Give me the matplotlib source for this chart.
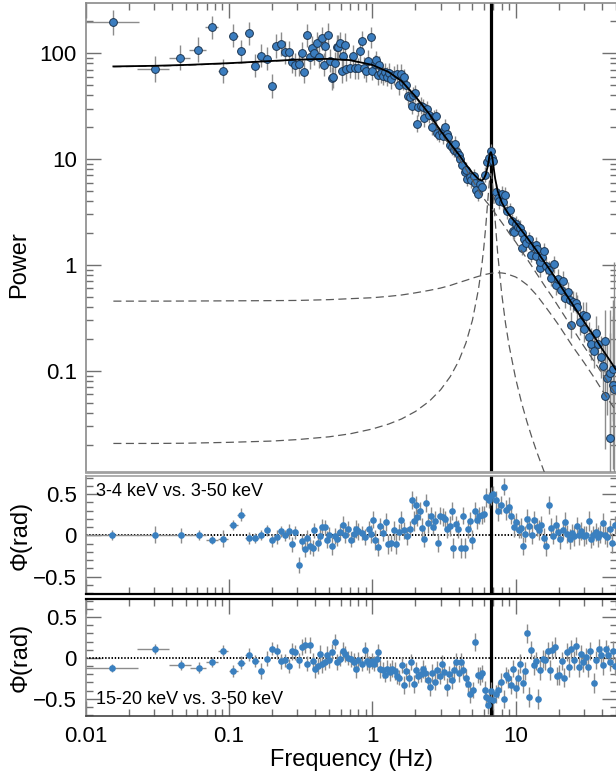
import numpy as np
import matplotlib
matplotlib.use('Agg')
import matplotlib.pyplot as plt
from matplotlib.ticker import FixedLocator, FixedFormatter, NullFormatter

plt.rcParams['font.family'] = ['Liberation Sans', 'DejaVu Sans']
plt.rcParams['lines.scale_dashes'] = False

# ---------------- power spectrum data ----------------
power_freq = [0.0156, 0.0305, 0.0457, 0.0608, 0.076, 0.091, 0.107, 0.122, 0.137, 0.153,
              0.168, 0.183, 0.2, 0.214, 0.229, 0.245, 0.261, 0.275, 0.289, 0.307,
              0.321, 0.334, 0.35, 0.366, 0.38, 0.395, 0.41, 0.427, 0.443, 0.46,
              0.47, 0.49, 0.505, 0.52, 0.535, 0.55, 0.565, 0.58, 0.595, 0.61,
              0.627, 0.64, 0.66, 0.7, 0.73, 0.76, 0.79, 0.82, 0.85, 0.88,
              0.91, 0.94, 0.98, 1.0, 1.04, 1.06, 1.09, 1.11, 1.15, 1.19,
              1.23, 1.27, 1.31, 1.36, 1.42, 1.48, 1.53, 1.58, 1.63, 1.67,
              1.72, 1.77, 1.83, 1.9, 1.93, 1.99, 2.04, 2.1, 2.2, 2.25,
              2.3, 2.4, 2.5, 2.6, 2.7, 2.77, 2.83, 2.9, 3.05, 3.1,
              3.2, 3.3, 3.4, 3.5, 3.6, 3.7, 3.8, 3.9, 4.05, 4.1,
              4.25, 4.4, 4.5, 4.6, 4.8, 4.9, 5.1, 5.2, 5.3, 5.5,
              5.6, 5.8, 6.1, 6.3, 6.5, 6.7, 6.8, 7.0, 7.3, 7.5,
              7.7, 8.0, 8.2, 8.5, 8.7, 9.1, 9.4, 9.6, 9.8, 10.0,
              10.4, 10.7, 11.0, 11.1, 11.5, 11.9, 12.5, 12.9, 13.1, 13.8,
              13.9, 14.1, 14.7, 14.8, 15.4, 15.8, 16.4, 17.0, 17.8, 18.4,
              19.2, 19.7, 20.6, 21.5, 22.2, 23.1, 23.8, 24.3, 25.1, 26.2,
              27.0, 28.0, 29.3, 30.1, 31.0, 32.4, 33.7, 35.0, 36.5, 37.8,
              39.3, 40.5, 42.0, 42.3, 43.6, 45.5, 45.8, 47.7, 48.2, 48.6]
power_value = [195, 71, 91, 108, 175, 68, 146, 104, 154, 76,
               95, 89, 49, 117, 122, 102, 102, 83, 78, 79,
               100, 67, 147, 92, 113, 100, 124, 93, 138, 78,
               117, 149, 85, 58, 60, 80, 115, 115, 124, 68,
               94, 120, 71, 73, 94, 72, 72, 106, 129, 73,
               68, 85, 141, 68, 79, 86, 62, 77, 65, 61,
               66, 60, 65, 57, 62, 64, 50, 64, 54, 59,
               50, 39, 38.5, 32, 40, 42, 21.6, 31, 32, 31,
               24.4, 30, 26, 20, 25, 25.3, 17.6, 17, 18.2, 16.4,
               20.3, 17.3, 16.1, 13.7, 12.9, 12.3, 14, 11.6, 11, 10,
               8.7, 7.5, 7.9, 6.5, 6.8, 6.3, 6.9, 5.9, 5.1, 4.7,
               5.8, 5.5, 7.1, 9.4, 10.2, 12, 10.2, 9.5, 4.9, 4.3,
               4.0, 4.7, 3.9, 4.6, 3.2, 3.3, 2.6, 2.07, 2.05, 2.45,
               2.3, 2.25, 2.0, 1.45, 1.75, 1.6, 1.75, 1.25, 1.5, 1.55,
               1.22, 1.42, 0.93, 1.07, 1.2, 1.34, 0.98, 0.90, 0.76, 1.01,
               0.64, 0.74, 0.58, 0.71, 0.49, 0.55, 0.47, 0.27, 0.45, 0.44,
               0.40, 0.29, 0.34, 0.25, 0.33, 0.21, 0.18, 0.154, 0.23, 0.18,
               0.135, 0.11, 0.19, 0.058, 0.086, 0.095, 0.023, 0.074, 0.105, 0.067]
power_err_dex = [0.12, 0.12, 0.12, 0.12, 0.11, 0.11, 0.11, 0.11, 0.11, 0.11,
                 0.11, 0.11, 0.11, 0.11, 0.11, 0.11, 0.11, 0.11, 0.11, 0.11,
                 0.11, 0.11, 0.11, 0.11, 0.11, 0.11, 0.11, 0.11, 0.11, 0.11,
                 0.11, 0.11, 0.11, 0.11, 0.11, 0.11, 0.11, 0.11, 0.11, 0.11,
                 0.11, 0.11, 0.11, 0.10, 0.10, 0.10, 0.10, 0.10, 0.10, 0.10,
                 0.10, 0.10, 0.10, 0.09, 0.09, 0.09, 0.09, 0.09, 0.09, 0.09,
                 0.09, 0.09, 0.09, 0.09, 0.09, 0.09, 0.09, 0.09, 0.08, 0.08,
                 0.08, 0.08, 0.08, 0.08, 0.08, 0.08, 0.08, 0.08, 0.08, 0.08,
                 0.08, 0.07, 0.07, 0.07, 0.07, 0.07, 0.07, 0.07, 0.07, 0.07,
                 0.07, 0.07, 0.07, 0.07, 0.07, 0.07, 0.07, 0.07, 0.07, 0.07,
                 0.07, 0.07, 0.07, 0.07, 0.07, 0.07, 0.07, 0.07, 0.07, 0.07,
                 0.07, 0.07, 0.07, 0.06, 0.06, 0.06, 0.06, 0.06, 0.07, 0.07,
                 0.07, 0.07, 0.07, 0.07, 0.07, 0.07, 0.07, 0.07, 0.07, 0.07,
                 0.07, 0.07, 0.07, 0.07, 0.07, 0.07, 0.07, 0.07, 0.07, 0.07,
                 0.07, 0.07, 0.08, 0.08, 0.08, 0.08, 0.08, 0.08, 0.08, 0.08,
                 0.09, 0.09, 0.09, 0.09, 0.10, 0.10, 0.10, 0.12, 0.10, 0.10,
                 0.11, 0.12, 0.12, 0.13, 0.13, 0.14, 0.15, 0.16, 0.16, 0.18,
                 0.20, 0.25, 0.30, 0.50, 0.35, 0.60, 1.00, 0.80, 0.50, 1.20]
bin_half_width = 0.0078

# ---------------- model curves ----------------
model_freq = [0.0156, 0.03, 0.05, 0.1, 0.2, 0.3, 0.5, 0.7, 1.0, 1.3,
              1.6, 2.0, 2.5, 3.0, 3.5, 4.0, 4.5, 5.0, 5.5, 5.8,
              6.0, 6.2, 6.4, 6.55, 6.65, 6.72, 6.8, 6.9, 7.05, 7.2,
              7.5, 8.0, 8.5, 9.0, 10, 11, 12, 13, 14, 15,
              16, 18, 20, 25, 30, 35, 40, 45, 50]
model_total = [75.0, 76.0, 77.5, 80.5, 84.5, 87.0, 88.5, 86.0, 77.5, 66.5,
               54.6, 39.1, 26.6, 18.47, 14.03, 11.1, 8.9, 7.4, 6.47, 6.27,
               6.52, 7.19, 8.70, 10.45, 11.41, 11.63, 11.22, 10.01, 8.01, 6.54,
               4.97, 3.90, 3.36, 2.98, 2.51, 2.12, 1.82, 1.57, 1.37, 1.19,
               1.05, 0.837, 0.675, 0.423, 0.292, 0.215, 0.162, 0.128, 0.103]
comp_main = [74.5, 75.5, 77, 80, 84, 86.5, 88, 85.5, 77, 66,
             54, 38.5, 26, 17.8, 13.3, 10.3, 8.0, 6.35, 5.1, 4.5,
             4.25, 4.0, 3.8, 3.65, 3.55, 3.5, 3.42, 3.33, 3.2, 3.07,
             2.85, 2.52, 2.25, 2.0, 1.65, 1.36, 1.14, 0.97, 0.83, 0.72,
             0.63, 0.50, 0.40, 0.25, 0.17, 0.125, 0.095, 0.075, 0.06]
comp_broad = [0.455, 0.455, 0.456, 0.458, 0.46, 0.462, 0.47, 0.48, 0.49, 0.505,
              0.52, 0.545, 0.575, 0.605, 0.64, 0.68, 0.715, 0.75, 0.78, 0.795,
              0.805, 0.815, 0.822, 0.828, 0.831, 0.833, 0.835, 0.838, 0.84, 0.842,
              0.843, 0.84, 0.83, 0.81, 0.77, 0.71, 0.65, 0.58, 0.52, 0.46,
              0.41, 0.33, 0.27, 0.17, 0.12, 0.088, 0.066, 0.052, 0.042]
comp_qpo = [0.0206, 0.0206, 0.0207, 0.0211, 0.0217, 0.0224, 0.0238, 0.0254, 0.0282, 0.0314,
            0.0351, 0.0413, 0.0516, 0.0663, 0.0882, 0.123, 0.183, 0.301, 0.585, 0.97,
            1.46, 2.37, 4.08, 5.97, 7.03, 7.3, 6.96, 5.84, 3.97, 2.63,
            1.28, 0.535, 0.282, 0.174, 0.085, 0.050, 0.033, 0.0234, 0.0174, 0.0135,
            0.0107, 0.0073, 0.0055, 0.003, 0.002, 0.0015, 0.0011, 0.0009, 0.0007]
qpo_freq = 6.7

# ---------------- phase lags: 3-4 keV vs 3-50 keV ----------------
mid_freq = [0.0153, 0.0305, 0.0461, 0.0613, 0.0764, 0.0912, 0.107, 0.122, 0.137, 0.153,
            0.168, 0.185, 0.2, 0.215, 0.229, 0.244, 0.261, 0.277, 0.291, 0.306,
            0.322, 0.337, 0.352, 0.37, 0.385, 0.394, 0.415, 0.434, 0.448, 0.465,
            0.483, 0.5, 0.524, 0.547, 0.569, 0.594, 0.621, 0.645, 0.674, 0.705,
            0.741, 0.769, 0.8, 0.841, 0.896, 0.942, 0.979, 1.016, 1.05, 1.096,
            1.14, 1.19, 1.245, 1.29, 1.35, 1.41, 1.47, 1.53, 1.58, 1.66,
            1.74, 1.82, 1.89, 1.94, 2.01, 2.06, 2.14, 2.22, 2.31, 2.37,
            2.46, 2.55, 2.65, 2.76, 2.86, 2.97, 3.09, 3.21, 3.33, 3.46,
            3.59, 3.68, 3.83, 3.97, 4.13, 4.29, 4.45, 4.62, 4.8, 4.99,
            5.18, 5.38, 5.59, 5.8, 6.03, 6.26, 6.5, 6.75, 7.01, 7.28,
            7.56, 7.86, 8.26, 8.59, 9.03, 9.26, 9.75, 10.1, 10.5, 10.9,
            11.2, 11.6, 12.1, 12.5, 13.0, 13.5, 14.0, 14.6, 15.1, 15.7,
            16.3, 17.0, 17.6, 18.3, 19.0, 19.7, 20.5, 21.3, 22.1, 23.0,
            23.9, 24.8, 25.7, 26.7, 27.8, 28.8, 29.9, 31.1, 32.3, 33.6,
            34.9, 36.2, 37.6, 39.0, 40.5, 42.2, 43.7, 45.4, 47.2, 49.0]
mid_phase = [0.01, 0.01, 0.0, 0.0, -0.05, -0.04, 0.13, 0.25, -0.03, -0.03,
             0.0, 0.06, -0.06, -0.02, 0.05, 0.0, 0.05, -0.11, 0.04, -0.36,
             -0.07, -0.17, -0.03, -0.13, -0.15, 0.06, -0.09, -0.01, 0.1, 0.1,
             -0.05, 0.01, -0.13, -0.01, -0.04, 0.04, 0.13, 0.01, 0.08, -0.05,
             0.02, 0.08, 0.05, 0.03, -0.02, 0.08, 0.02, 0.19, -0.06, -0.14,
             0.11, 0.03, 0.16, -0.11, -0.09, 0.06, -0.1, 0.04, 0.19, 0.06,
             -0.01, 0.08, 0.43, 0.17, 0.37, 0.22, 0.3, 0.09, -0.04, 0.39,
             0.15, 0.23, 0.1, 0.18, -0.09, 0.24, 0.22, 0.2, 0.08, 0.11,
             0.3, -0.15, 0.14, 0.08, -0.15, 0.24, -0.15, 0.08, 0.18, -0.05,
             0.3, 0.19, 0.24, 0.25, 0.26, 0.46, 0.43, 0.48, 0.5, 0.43,
             0.29, 0.37, 0.59, 0.31, 0.35, 0.24, 0.1, 0.16, 0.07, 0.09,
             -0.13, 0.02, 0.2, 0.12, 0.01, 0.19, 0.1, 0.07, 0.13, -0.03,
             -0.13, 0.37, 0.09, -0.01, 0.13, 0.04, -0.04, 0.07, 0.16, 0.02,
             -0.04, 0.03, -0.01, 0.11, 0.0, 0.05, -0.01, 0.01, 0.17, -0.04,
             0.0, 0.04, -0.02, 0.02, 0.15, 0.01, -0.02, 0.08, -0.09, 0.13]
mid_err = [0.06, 0.10, 0.09, 0.06, 0.05, 0.10, 0.06, 0.08, 0.07, 0.06,
           0.06, 0.07, 0.08, 0.08, 0.07, 0.07, 0.09, 0.09, 0.08, 0.10,
           0.09, 0.09, 0.10, 0.09, 0.10, 0.09, 0.10, 0.09, 0.10, 0.09,
           0.10, 0.09, 0.11, 0.10, 0.09, 0.10, 0.11, 0.10, 0.10, 0.09,
           0.10, 0.11, 0.10, 0.09, 0.10, 0.10, 0.11, 0.10, 0.12, 0.11,
           0.10, 0.10, 0.11, 0.12, 0.10, 0.11, 0.12, 0.10, 0.11, 0.10,
           0.11, 0.10, 0.11, 0.12, 0.11, 0.10, 0.11, 0.12, 0.10, 0.11,
           0.12, 0.11, 0.10, 0.12, 0.11, 0.10, 0.11, 0.10, 0.11, 0.12,
           0.11, 0.12, 0.10, 0.11, 0.12, 0.10, 0.12, 0.11, 0.10, 0.11,
           0.10, 0.11, 0.10, 0.11, 0.10, 0.11, 0.10, 0.11, 0.10, 0.11,
           0.12, 0.11, 0.10, 0.12, 0.11, 0.10, 0.12, 0.11, 0.10, 0.12,
           0.11, 0.10, 0.12, 0.11, 0.12, 0.10, 0.11, 0.12, 0.11, 0.12,
           0.12, 0.11, 0.12, 0.10, 0.12, 0.11, 0.12, 0.11, 0.12, 0.11,
           0.12, 0.11, 0.12, 0.11, 0.12, 0.11, 0.12, 0.11, 0.12, 0.11,
           0.12, 0.11, 0.12, 0.11, 0.12, 0.11, 0.12, 0.11, 0.12, 0.11]

# ---------------- phase lags: 15-20 keV vs 3-50 keV ----------------
bot_freq = [0.0153, 0.0305, 0.0461, 0.0613, 0.0764, 0.0912, 0.107, 0.122, 0.137, 0.153,
            0.168, 0.185, 0.2, 0.215, 0.229, 0.244, 0.261, 0.277, 0.291, 0.306,
            0.322, 0.337, 0.352, 0.37, 0.385, 0.4, 0.415, 0.434, 0.448, 0.465,
            0.483, 0.5, 0.524, 0.547, 0.569, 0.594, 0.621, 0.645, 0.674, 0.705,
            0.741, 0.769, 0.8, 0.841, 0.884, 0.916, 0.95, 0.99, 1.03, 1.07,
            1.1, 1.14, 1.18, 1.23, 1.27, 1.32, 1.37, 1.43, 1.48, 1.54,
            1.6, 1.67, 1.73, 1.8, 1.87, 1.94, 2.01, 2.09, 2.17, 2.26,
            2.35, 2.44, 2.53, 2.63, 2.73, 2.84, 2.95, 3.07, 3.18, 3.31,
            3.44, 3.57, 3.71, 3.85, 4.0, 4.16, 4.32, 4.49, 4.66, 4.84,
            5.03, 5.23, 5.43, 5.64, 5.86, 6.09, 6.24, 6.41, 6.5, 6.75,
            7.01, 7.28, 7.56, 7.86, 8.26, 8.59, 8.9, 9.26, 9.62, 10.0,
            10.4, 10.8, 11.2, 11.6, 12.1, 12.4, 12.9, 13.4, 13.8, 14.3,
            14.9, 15.5, 16.1, 16.7, 17.4, 18.0, 18.7, 19.5, 20.2, 21.0,
            21.8, 22.7, 23.6, 24.5, 25.4, 26.4, 27.5, 28.5, 29.7, 30.8,
            32.0, 33.3, 35.1, 36.5, 37.9, 39.4, 41.0, 42.6, 44.2, 45.9,
            47.7, 49.6]
bot_phase = [-0.12, 0.11, -0.09, -0.12, -0.05, 0.09, -0.16, -0.06, 0.04, -0.04,
             -0.16, -0.01, 0.11, 0.08, -0.04, -0.03, -0.1, 0.08, 0.07, -0.03,
             0.13, 0.16, -0.07, 0.16, -0.04, -0.13, -0.1, 0.05, -0.08, -0.05,
             0.04, -0.03, 0.07, 0.2, -0.05, -0.01, 0.09, 0.05, 0.0, -0.01,
             -0.05, -0.14, -0.03, -0.07, 0.1, -0.04, -0.08, -0.04, -0.07, -0.01,
             0.07, -0.13, -0.15, -0.21, -0.13, -0.17, -0.13, -0.16, -0.22, -0.24,
             -0.09, -0.33, -0.16, -0.24, -0.05, -0.32, -0.15, -0.22, -0.2, -0.13,
             -0.19, -0.27, -0.36, -0.19, -0.29, -0.15, -0.22, -0.08, -0.17, -0.35,
             -0.2, -0.27, -0.15, -0.05, -0.19, -0.05, -0.15, -0.25, -0.32, -0.44,
             -0.39, 0.19, -0.21, -0.22, -0.19, -0.39, -0.48, -0.58, -0.5, -0.41,
             -0.52, -0.44, -0.39, -0.3, -0.5, -0.21, -0.25, -0.33, -0.13, -0.37,
             -0.24, -0.07, -0.31, -0.16, 0.3, -0.48, 0.1, -0.09, -0.04, -0.5,
             -0.15, -0.01, -0.03, 0.09, -0.15, 0.1, 0.13, -0.22, -0.21, -0.04,
             -0.24, 0.07, -0.11, 0.11, -0.03, 0.15, -0.11, 0.05, -0.05, 0.01,
             -0.11, 0.09, -0.31, -0.03, 0.11, 0.03, -0.09, 0.11, 0.04, -0.05,
             0.09, -0.1]
bot_err = [0.05, 0.06, 0.06, 0.07, 0.06, 0.07, 0.07, 0.08, 0.08, 0.07,
           0.10, 0.09, 0.08, 0.09, 0.09, 0.08, 0.09, 0.10, 0.09, 0.09,
           0.10, 0.10, 0.09, 0.10, 0.10, 0.11, 0.10, 0.11, 0.10, 0.10,
           0.10, 0.09, 0.10, 0.09, 0.10, 0.09, 0.11, 0.10, 0.09, 0.10,
           0.11, 0.10, 0.10, 0.09, 0.10, 0.11, 0.10, 0.10, 0.09, 0.10,
           0.10, 0.11, 0.10, 0.09, 0.10, 0.11, 0.10, 0.11, 0.10, 0.09,
           0.10, 0.11, 0.10, 0.11, 0.10, 0.11, 0.10, 0.09, 0.10, 0.11,
           0.10, 0.11, 0.10, 0.11, 0.10, 0.11, 0.10, 0.11, 0.10, 0.11,
           0.10, 0.11, 0.10, 0.11, 0.10, 0.11, 0.10, 0.11, 0.10, 0.11,
           0.10, 0.11, 0.10, 0.11, 0.10, 0.11, 0.10, 0.11, 0.10, 0.11,
           0.12, 0.11, 0.10, 0.12, 0.11, 0.10, 0.12, 0.11, 0.10, 0.12,
           0.11, 0.12, 0.12, 0.11, 0.12, 0.12, 0.11, 0.12, 0.11, 0.12,
           0.12, 0.11, 0.12, 0.11, 0.12, 0.11, 0.12, 0.11, 0.12, 0.11,
           0.12, 0.11, 0.12, 0.11, 0.12, 0.11, 0.12, 0.11, 0.12, 0.11,
           0.12, 0.11, 0.12, 0.11, 0.12, 0.11, 0.12, 0.11, 0.12, 0.11,
           0.12, 0.11]

panel_labels = ['3-4 keV vs. 3-50 keV', '15-20 keV vs. 3-50 keV']
x_tick_values = [0.01, 0.1, 1, 10]
x_tick_labels = ['0.01', '0.1', '1', '10']
p_tick_values = [0.1, 1, 10, 100]
p_tick_labels = ['0.1', '1', '10', '100']
phi_tick_values = [-0.5, 0, 0.5]
phi_tick_labels = ['\u22120.5', '0', '0.5']

# ---------------- figure ----------------
W, H = 616, 779
fig = plt.figure(figsize=(W / 100, H / 100), dpi=100)

def rect(x0, y0, x1, y1):
    return [x0 / W, 1 - y1 / H, (x1 - x0) / W, (y1 - y0) / H]

ax1 = fig.add_axes(rect(85.7, 3.3, 617, 472))
ax2 = fig.add_axes(rect(85.7, 476, 617, 594))
ax3 = fig.add_axes(rect(85.7, 599, 617, 716))

blue = '#3b7dbf'
ecol = '#8c8c8c'
tickcol = '#707070'

xminor = [m * 10.0 ** k for k in range(-2, 2) for m in range(2, 10)]
for ax in (ax1, ax2, ax3):
    ax.set_xscale('log')
    ax.set_xlim(0.01, 51.0)
    ax.xaxis.set_major_locator(FixedLocator(x_tick_values))
    ax.xaxis.set_minor_locator(FixedLocator(xminor))
    ax.xaxis.set_minor_formatter(NullFormatter())
    ax.tick_params(which='both', direction='in', color=tickcol, width=1.0,
                   labelsize=16, labelcolor='k')
    ax.tick_params(which='major', length=10.5)
    ax.tick_params(which='minor', length=5)
    ax.tick_params(axis='y', which='both', left=True, right=True, pad=6.5)
    ax.tick_params(axis='x', pad=7)
    for s in ax.spines.values():
        s.set_color('#8a8a8a')
        s.set_linewidth(1.2)
    ax.axvline(qpo_freq, color='k', lw=2.3, zorder=2.5)

# ---- top panel
pf = np.array(power_freq)
pv = np.array(power_value)
pd = np.array(power_err_dex)
ylo = pv - pv / 10 ** pd
yhi = pv * 10 ** pd - pv
ax1.errorbar(pf, pv, yerr=[ylo, yhi], xerr=bin_half_width, fmt='o', ms=5.6,
             mfc=blue, mec='#1d3550', mew=0.7, ecolor=ecol, elinewidth=1.0,
             capsize=0, zorder=3)
dash = (5.8, 3.2)
for comp in (comp_main, comp_broad, comp_qpo):
    ax1.plot(model_freq, comp, color='#5a5a5a', lw=0.9, dashes=dash, zorder=3.5)
ax1.plot(model_freq, model_total, color='k', lw=1.3, zorder=4)
ax1.set_yscale('log')
ax1.set_ylim(0.01107, 296)
ax1.yaxis.set_major_locator(FixedLocator(p_tick_values))
ax1.yaxis.set_major_formatter(FixedFormatter(p_tick_labels))
yminor = [m * 10.0 ** k for k in range(-2, 3) for m in range(2, 10)]
ax1.yaxis.set_minor_locator(FixedLocator(yminor))
ax1.yaxis.set_minor_formatter(NullFormatter())
ax1.tick_params(axis='x', which='both', top=True, bottom=False, labelbottom=False)
ax1.spines['bottom'].set_linewidth(2.0)
ax1.spines['bottom'].set_color('#a0a0a0')

# ---- phase panels
for ax, fr, ph, er, lab, ly in ((ax2, mid_freq, mid_phase, mid_err, panel_labels[0], 492),
                                (ax3, bot_freq, bot_phase, bot_err, panel_labels[1], 699)):
    ax.axhline(0, color='k', lw=1.4, linestyle=(0, (1.0, 1.3)), zorder=2)
    ax.errorbar(fr, ph, yerr=er, xerr=bin_half_width, fmt='o', ms=4.8,
                mfc='#3a80c0', mec='#3a80c0', mew=0, ecolor=ecol,
                elinewidth=1.0, capsize=0, zorder=3)
    ax.set_ylim(-0.71, 0.72)
    ax.yaxis.set_major_locator(FixedLocator(phi_tick_values))
    ax.yaxis.set_major_formatter(FixedFormatter(phi_tick_labels))
    ax.yaxis.set_minor_locator(FixedLocator([v / 10 for v in range(-7, 8) if v not in (-5, 0, 5)]))
    ax.yaxis.set_minor_formatter(NullFormatter())
    fig.text(96 / W, 1 - ly / H, lab, fontsize=13, ha='left', va='center')
    fig.text(21 / W, 1 - (535.5 if ax is ax2 else 657) / H, '\u03a6(rad)',
             fontsize=17, rotation=90, ha='center', va='center')

ax2.tick_params(axis='x', which='both', top=False, bottom=True, labelbottom=False)
ax2.spines['bottom'].set_color('k')
ax2.spines['bottom'].set_linewidth(1.6)
ax2.spines['top'].set_color('#a0a0a0')

ax3.tick_params(axis='x', which='both', top=True, bottom=True, labelbottom=True)
ax3.xaxis.set_major_formatter(FixedFormatter(x_tick_labels))
ax3.spines['top'].set_color('k')
ax3.spines['top'].set_linewidth(1.6)
ax3.spines['bottom'].set_color('#444444')

fig.text(19 / W, 1 - 265 / H, 'Power', fontsize=17, rotation=90, ha='center', va='center')
fig.text(351 / W, 1 - 760 / H, 'Frequency (Hz)', fontsize=17, ha='center', va='center')

fig.savefig('out.png', dpi=100)
